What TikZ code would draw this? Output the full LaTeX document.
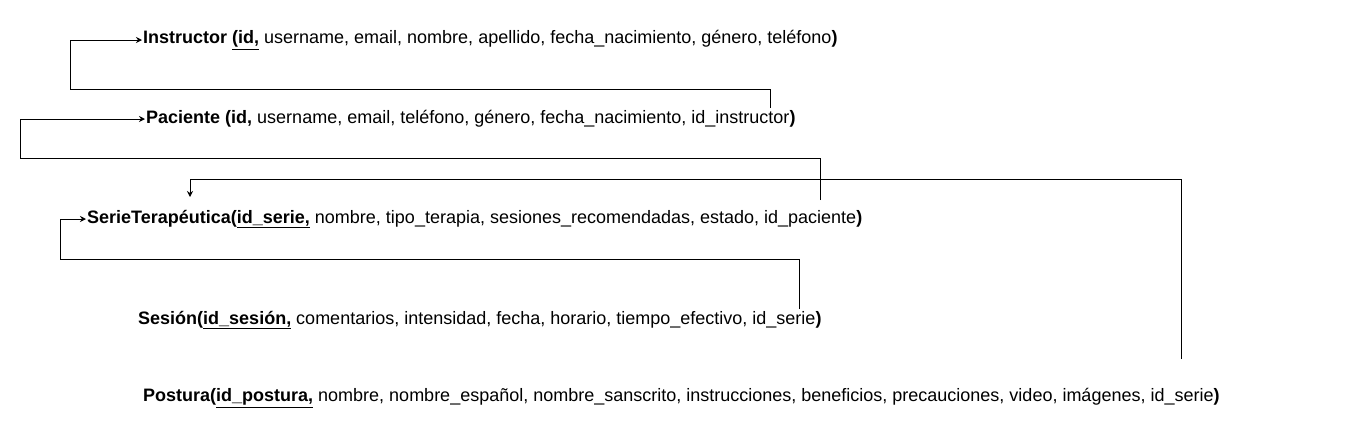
\documentclass[tikz,border=0pt]{standalone}
\usepackage{fontspec}
\setmainfont{Liberation Sans}
\usetikzlibrary{arrows.meta,positioning,calc}
\tikzset{
	relation/.style={anchor=west, inner sep=0pt, font=\fontsize{18}{21}\selectfont},
	fk/.style={-{Stealth[length=6pt,width=6pt]}, line width=1pt, shorten >=1pt},
}
\begin{document}
\begin{tikzpicture}[x=1pt,y=-1pt]
	\useasboundingbox (0,0) rectangle (1361,440);

	\node[relation] (ins) at (143,40) {\textbf{Instructor \underline{(id,}} username, email, nombre, apellido, fecha\_nacimiento, género, teléfono\textbf{)}};
	\node[relation] (pac) at (146,119) {\textbf{Paciente (id,} username, email, teléfono, género, fecha\_nacimiento, id\_instructor\textbf{)}};
	\node[relation] (ser) at (87,219) {\textbf{SerieTerapéutica(\underline{id\_serie,}} nombre, tipo\_terapia, sesiones\_recomendadas, estado, id\_paciente\textbf{)}};
	\node[relation] (ses) at (138,320) {\textbf{Sesión(\underline{id\_sesión,}} comentarios, intensidad, fecha, horario, tiempo\_efectivo, id\_serie\textbf{)}};
	\node[relation] (pos) at (143,398) {\textbf{Postura(\underline{id\_postura,}} nombre, nombre\_español, nombre\_sanscrito, instrucciones, beneficios, precauciones, video, imágenes, id\_serie\textbf{)}};

	% foreign key ends
	\coordinate (insfk) at ([xshift=-25pt,yshift=11pt]pac.east);
	\coordinate (pacfk) at ([xshift=-42pt,yshift=19pt]ser.east);
	\coordinate (serfk) at ([xshift=-22pt,yshift=11pt]ses.east);
	\coordinate (posfk) at ([xshift=-38pt,yshift=39pt]pos.east);
	\coordinate (sertop) at ([xshift=103pt,yshift=21pt]ser.west);

	\draw[fk] (insfk) |- ([xshift=-73pt,yshift=-49pt]ins.west) -- ([xshift=-73pt]ins.west) -- (ins.west);
	\draw[fk] (pacfk) |- ([xshift=-126pt,yshift=-39pt]pac.west) -- ([xshift=-126pt]pac.west) -- (pac.west);
	\draw[fk] (serfk) |- ([xshift=-27pt,yshift=-40pt]ser.west) -- ([xshift=-27pt]ser.west) -- (ser.west);
	\draw[fk] (posfk) |- ([yshift=19pt]sertop) -- (sertop);
\end{tikzpicture}
\end{document}
